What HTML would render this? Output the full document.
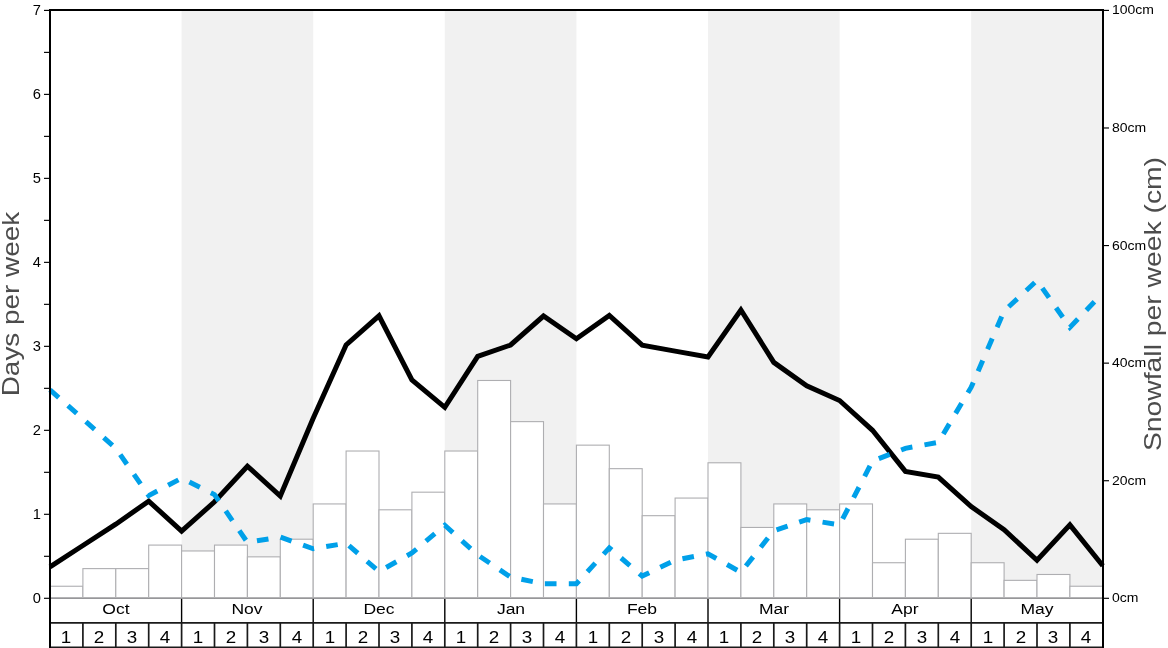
<!DOCTYPE html>
<html lang="en"><head><meta charset="utf-8"><title>Snowfall chart</title>
<style>
html,body{margin:0;padding:0;background:#fff;}
body{width:1168px;height:648px;position:relative;overflow:hidden;font-family:"Liberation Sans",sans-serif;color:#000;}
.t{position:absolute;white-space:nowrap;line-height:1;}
.yl{font-size:14px;width:30px;text-align:right;transform-origin:100% 50%;transform:scaleX(1.05);}
.yr{font-size:12.4px;transform-origin:0 50%;transform:scaleX(1.13);}
.mo{font-size:15.5px;width:120px;text-align:center;transform:scaleX(1.13);}
.wk{font-size:16.8px;width:30px;text-align:center;transform:scaleX(1.12);}
.ax{font-size:24.5px;color:#4c4c4c;text-align:center;width:400px;height:30px;line-height:30px;}
</style></head><body>
<svg width="1168" height="648" viewBox="0 0 1168 648" style="position:absolute;left:0;top:0">
<rect x="181.6" y="10.4" width="131.6" height="587.9" fill="#f1f1f1"/>
<rect x="444.8" y="10.4" width="131.6" height="587.9" fill="#f1f1f1"/>
<rect x="708" y="10.4" width="131.6" height="587.9" fill="#f1f1f1"/>
<rect x="971.2" y="10.4" width="131.6" height="587.9" fill="#f1f1f1"/>
<g fill="#ffffff" stroke="#aeaeb1" stroke-width="1.1">
<rect x="50" y="586.24" width="32.9" height="11.76"/>
<rect x="82.9" y="568.61" width="32.9" height="29.39"/>
<rect x="115.8" y="568.61" width="32.9" height="29.39"/>
<rect x="148.7" y="545.09" width="32.9" height="52.91"/>
<rect x="181.6" y="550.97" width="32.9" height="47.03"/>
<rect x="214.5" y="545.09" width="32.9" height="52.91"/>
<rect x="247.4" y="556.85" width="32.9" height="41.15"/>
<rect x="280.3" y="539.21" width="32.9" height="58.79"/>
<rect x="313.2" y="503.94" width="32.9" height="94.06"/>
<rect x="346.1" y="451.02" width="32.9" height="146.98"/>
<rect x="379" y="509.81" width="32.9" height="88.19"/>
<rect x="411.9" y="492.18" width="32.9" height="105.82"/>
<rect x="444.8" y="451.02" width="32.9" height="146.98"/>
<rect x="477.7" y="380.48" width="32.9" height="217.52"/>
<rect x="510.6" y="421.63" width="32.9" height="176.37"/>
<rect x="543.5" y="503.94" width="32.9" height="94.06"/>
<rect x="576.4" y="445.15" width="32.9" height="152.85"/>
<rect x="609.3" y="468.66" width="32.9" height="129.34"/>
<rect x="642.2" y="515.69" width="32.9" height="82.31"/>
<rect x="675.1" y="498.06" width="32.9" height="99.94"/>
<rect x="708" y="462.78" width="32.9" height="135.22"/>
<rect x="740.9" y="527.45" width="32.9" height="70.55"/>
<rect x="773.8" y="503.94" width="32.9" height="94.06"/>
<rect x="806.7" y="509.81" width="32.9" height="88.19"/>
<rect x="839.6" y="503.94" width="32.9" height="94.06"/>
<rect x="872.5" y="562.73" width="32.9" height="35.27"/>
<rect x="905.4" y="539.21" width="32.9" height="58.79"/>
<rect x="938.3" y="533.33" width="32.9" height="64.67"/>
<rect x="971.2" y="562.73" width="32.9" height="35.27"/>
<rect x="1004.1" y="580.36" width="32.9" height="17.64"/>
<rect x="1037" y="574.48" width="32.9" height="23.52"/>
<rect x="1069.9" y="586.24" width="32.9" height="11.76"/>
</g>
<rect x="50" y="597" width="1053" height="1" fill="#b3b3b5"/>
<rect x="50" y="598" width="1053" height="0.85" fill="#8e8e90"/>
<polyline points="50,566.9 82.9,545.5 115.8,524.2 148.7,501.1 181.6,531.2 214.5,501.8 247.4,466.2 280.3,496 313.2,418.3 346.1,345 379,315.8 411.9,380 444.8,407.3 477.7,356.3 510.6,345 543.5,316 576.4,338.7 609.3,315.5 642.2,345.2 675.1,351.1 708,357 740.9,310 773.8,362.4 806.7,385.8 839.6,400.5 872.5,430.3 905.4,471.4 938.3,477.1 971.2,506.6 1004.1,529.7 1037,560.3 1069.9,524.9 1102.8,565.8" fill="none" stroke="#000" stroke-width="5" stroke-linejoin="miter" stroke-miterlimit="10" stroke-linecap="butt"/>
<polyline points="50,389.9 82.9,418.9 115.8,448.3 148.7,495.6 181.6,478.2 214.5,494.6 247.4,542.4 280.3,537 313.2,548.8 346.1,543.2 379,571.5 411.9,553 444.8,525.2 477.7,555 510.6,577.1 543.5,583.8 576.4,583.8 609.3,547.9 642.2,576.1 675.1,560.2 708,553.8 740.9,572.3 773.8,530.7 806.7,519.6 839.6,524.8 872.5,461.1 905.4,448.3 938.3,442.4 971.2,387.2 1004.1,311 1037,280.5 1069.9,327.4 1102.8,293" fill="none" stroke="#00a0e9" stroke-width="5" stroke-linejoin="miter" stroke-linecap="butt" stroke-dasharray="11.67 12.27"/>
<g stroke="#000" fill="none">
<line x1="181.6" y1="598.9" x2="181.6" y2="623" stroke-width="1.4"/>
<line x1="313.2" y1="598.9" x2="313.2" y2="623" stroke-width="1.4"/>
<line x1="444.8" y1="598.9" x2="444.8" y2="623" stroke-width="1.4"/>
<line x1="576.4" y1="598.9" x2="576.4" y2="623" stroke-width="1.4"/>
<line x1="708" y1="598.9" x2="708" y2="623" stroke-width="1.4"/>
<line x1="839.6" y1="598.9" x2="839.6" y2="623" stroke-width="1.4"/>
<line x1="971.2" y1="598.9" x2="971.2" y2="623" stroke-width="1.4"/>
<line x1="82.9" y1="622" x2="82.9" y2="648" stroke-width="1.7" stroke="#1a1a1a"/>
<line x1="115.8" y1="622" x2="115.8" y2="648" stroke-width="1.7" stroke="#1a1a1a"/>
<line x1="148.7" y1="622" x2="148.7" y2="648" stroke-width="1.7" stroke="#1a1a1a"/>
<line x1="181.6" y1="622" x2="181.6" y2="648" stroke-width="1.7" stroke="#1a1a1a"/>
<line x1="214.5" y1="622" x2="214.5" y2="648" stroke-width="1.7" stroke="#1a1a1a"/>
<line x1="247.4" y1="622" x2="247.4" y2="648" stroke-width="1.7" stroke="#1a1a1a"/>
<line x1="280.3" y1="622" x2="280.3" y2="648" stroke-width="1.7" stroke="#1a1a1a"/>
<line x1="313.2" y1="622" x2="313.2" y2="648" stroke-width="1.7" stroke="#1a1a1a"/>
<line x1="346.1" y1="622" x2="346.1" y2="648" stroke-width="1.7" stroke="#1a1a1a"/>
<line x1="379" y1="622" x2="379" y2="648" stroke-width="1.7" stroke="#1a1a1a"/>
<line x1="411.9" y1="622" x2="411.9" y2="648" stroke-width="1.7" stroke="#1a1a1a"/>
<line x1="444.8" y1="622" x2="444.8" y2="648" stroke-width="1.7" stroke="#1a1a1a"/>
<line x1="477.7" y1="622" x2="477.7" y2="648" stroke-width="1.7" stroke="#1a1a1a"/>
<line x1="510.6" y1="622" x2="510.6" y2="648" stroke-width="1.7" stroke="#1a1a1a"/>
<line x1="543.5" y1="622" x2="543.5" y2="648" stroke-width="1.7" stroke="#1a1a1a"/>
<line x1="576.4" y1="622" x2="576.4" y2="648" stroke-width="1.7" stroke="#1a1a1a"/>
<line x1="609.3" y1="622" x2="609.3" y2="648" stroke-width="1.7" stroke="#1a1a1a"/>
<line x1="642.2" y1="622" x2="642.2" y2="648" stroke-width="1.7" stroke="#1a1a1a"/>
<line x1="675.1" y1="622" x2="675.1" y2="648" stroke-width="1.7" stroke="#1a1a1a"/>
<line x1="708" y1="622" x2="708" y2="648" stroke-width="1.7" stroke="#1a1a1a"/>
<line x1="740.9" y1="622" x2="740.9" y2="648" stroke-width="1.7" stroke="#1a1a1a"/>
<line x1="773.8" y1="622" x2="773.8" y2="648" stroke-width="1.7" stroke="#1a1a1a"/>
<line x1="806.7" y1="622" x2="806.7" y2="648" stroke-width="1.7" stroke="#1a1a1a"/>
<line x1="839.6" y1="622" x2="839.6" y2="648" stroke-width="1.7" stroke="#1a1a1a"/>
<line x1="872.5" y1="622" x2="872.5" y2="648" stroke-width="1.7" stroke="#1a1a1a"/>
<line x1="905.4" y1="622" x2="905.4" y2="648" stroke-width="1.7" stroke="#1a1a1a"/>
<line x1="938.3" y1="622" x2="938.3" y2="648" stroke-width="1.7" stroke="#1a1a1a"/>
<line x1="971.2" y1="622" x2="971.2" y2="648" stroke-width="1.7" stroke="#1a1a1a"/>
<line x1="1004.1" y1="622" x2="1004.1" y2="648" stroke-width="1.7" stroke="#1a1a1a"/>
<line x1="1037" y1="622" x2="1037" y2="648" stroke-width="1.7" stroke="#1a1a1a"/>
<line x1="1069.9" y1="622" x2="1069.9" y2="648" stroke-width="1.7" stroke="#1a1a1a"/>
<line x1="50" y1="622.85" x2="1103" y2="622.85" stroke-width="1.85" stroke="#1a1a1a"/>
<line x1="50" y1="647.6" x2="1103" y2="647.6" stroke-width="2" stroke="#1a1a1a"/>
<line x1="50" y1="9" x2="50" y2="648" stroke-width="2"/>
<line x1="1103" y1="9" x2="1103" y2="648" stroke-width="2"/>
<line x1="49" y1="10" x2="1104" y2="10" stroke-width="2"/>
<line x1="44" y1="598.3" x2="49" y2="598.3" stroke-width="1.15"/>
<line x1="44" y1="556.31" x2="49" y2="556.31" stroke-width="1.15"/>
<line x1="44" y1="514.31" x2="49" y2="514.31" stroke-width="1.15"/>
<line x1="44" y1="472.32" x2="49" y2="472.32" stroke-width="1.15"/>
<line x1="44" y1="430.33" x2="49" y2="430.33" stroke-width="1.15"/>
<line x1="44" y1="388.34" x2="49" y2="388.34" stroke-width="1.15"/>
<line x1="44" y1="346.34" x2="49" y2="346.34" stroke-width="1.15"/>
<line x1="44" y1="304.35" x2="49" y2="304.35" stroke-width="1.15"/>
<line x1="44" y1="262.36" x2="49" y2="262.36" stroke-width="1.15"/>
<line x1="44" y1="220.36" x2="49" y2="220.36" stroke-width="1.15"/>
<line x1="44" y1="178.37" x2="49" y2="178.37" stroke-width="1.15"/>
<line x1="44" y1="136.38" x2="49" y2="136.38" stroke-width="1.15"/>
<line x1="44" y1="94.39" x2="49" y2="94.39" stroke-width="1.15"/>
<line x1="44" y1="52.39" x2="49" y2="52.39" stroke-width="1.15"/>
<line x1="44" y1="10.4" x2="49" y2="10.4" stroke-width="1.15"/>
<line x1="1104" y1="598.3" x2="1109" y2="598.3" stroke-width="1.15"/>
<line x1="1104" y1="480.72" x2="1109" y2="480.72" stroke-width="1.15"/>
<line x1="1104" y1="363.14" x2="1109" y2="363.14" stroke-width="1.15"/>
<line x1="1104" y1="245.56" x2="1109" y2="245.56" stroke-width="1.15"/>
<line x1="1104" y1="127.98" x2="1109" y2="127.98" stroke-width="1.15"/>
<line x1="1104" y1="10.4" x2="1109" y2="10.4" stroke-width="1.15"/>
</g>
</svg>
<div id="labels" style="position:absolute;left:0;top:0;width:1168px;height:648px;will-change:transform">
<div class="t yl" style="left:10.7px;top:591.2px">0</div>
<div class="t yl" style="left:10.7px;top:507.21px">1</div>
<div class="t yl" style="left:10.7px;top:423.23px">2</div>
<div class="t yl" style="left:10.7px;top:339.24px">3</div>
<div class="t yl" style="left:10.7px;top:255.26px">4</div>
<div class="t yl" style="left:10.7px;top:171.27px">5</div>
<div class="t yl" style="left:10.7px;top:87.29px">6</div>
<div class="t yl" style="left:10.7px;top:3.3px">7</div>
<div class="t yr" style="left:1112.4px;top:592.4px">0cm</div>
<div class="t yr" style="left:1112.4px;top:474.82px">20cm</div>
<div class="t yr" style="left:1112.4px;top:357.24px">40cm</div>
<div class="t yr" style="left:1112.4px;top:239.66px">60cm</div>
<div class="t yr" style="left:1112.4px;top:122.08px">80cm</div>
<div class="t yr" style="left:1112.4px;top:3.8px">100cm</div>
<div class="t mo" style="left:55.8px;top:601.4px">Oct</div>
<div class="t mo" style="left:187.4px;top:601.4px">Nov</div>
<div class="t mo" style="left:319px;top:601.4px">Dec</div>
<div class="t mo" style="left:450.6px;top:601.4px">Jan</div>
<div class="t mo" style="left:582.2px;top:601.4px">Feb</div>
<div class="t mo" style="left:713.8px;top:601.4px">Mar</div>
<div class="t mo" style="left:845.4px;top:601.4px">Apr</div>
<div class="t mo" style="left:977px;top:601.4px">May</div>
<div class="t wk" style="left:51.45px;top:629.6px">1</div>
<div class="t wk" style="left:84.35px;top:629.6px">2</div>
<div class="t wk" style="left:117.25px;top:629.6px">3</div>
<div class="t wk" style="left:150.15px;top:629.6px">4</div>
<div class="t wk" style="left:183.05px;top:629.6px">1</div>
<div class="t wk" style="left:215.95px;top:629.6px">2</div>
<div class="t wk" style="left:248.85px;top:629.6px">3</div>
<div class="t wk" style="left:281.75px;top:629.6px">4</div>
<div class="t wk" style="left:314.65px;top:629.6px">1</div>
<div class="t wk" style="left:347.55px;top:629.6px">2</div>
<div class="t wk" style="left:380.45px;top:629.6px">3</div>
<div class="t wk" style="left:413.35px;top:629.6px">4</div>
<div class="t wk" style="left:446.25px;top:629.6px">1</div>
<div class="t wk" style="left:479.15px;top:629.6px">2</div>
<div class="t wk" style="left:512.05px;top:629.6px">3</div>
<div class="t wk" style="left:544.95px;top:629.6px">4</div>
<div class="t wk" style="left:577.85px;top:629.6px">1</div>
<div class="t wk" style="left:610.75px;top:629.6px">2</div>
<div class="t wk" style="left:643.65px;top:629.6px">3</div>
<div class="t wk" style="left:676.55px;top:629.6px">4</div>
<div class="t wk" style="left:709.45px;top:629.6px">1</div>
<div class="t wk" style="left:742.35px;top:629.6px">2</div>
<div class="t wk" style="left:775.25px;top:629.6px">3</div>
<div class="t wk" style="left:808.15px;top:629.6px">4</div>
<div class="t wk" style="left:841.05px;top:629.6px">1</div>
<div class="t wk" style="left:873.95px;top:629.6px">2</div>
<div class="t wk" style="left:906.85px;top:629.6px">3</div>
<div class="t wk" style="left:939.75px;top:629.6px">4</div>
<div class="t wk" style="left:972.65px;top:629.6px">1</div>
<div class="t wk" style="left:1005.55px;top:629.6px">2</div>
<div class="t wk" style="left:1038.45px;top:629.6px">3</div>
<div class="t wk" style="left:1071.35px;top:629.6px">4</div>
<div class="t ax" style="left:-189.3px;top:288.8px;transform:rotate(-90deg) scaleX(1.139)">Days per week</div>
<div class="t ax" style="left:953.2px;top:289.2px;transform:rotate(-90deg) scaleX(1.155)">Snowfall per week (cm)</div>
</div>
</body></html>
